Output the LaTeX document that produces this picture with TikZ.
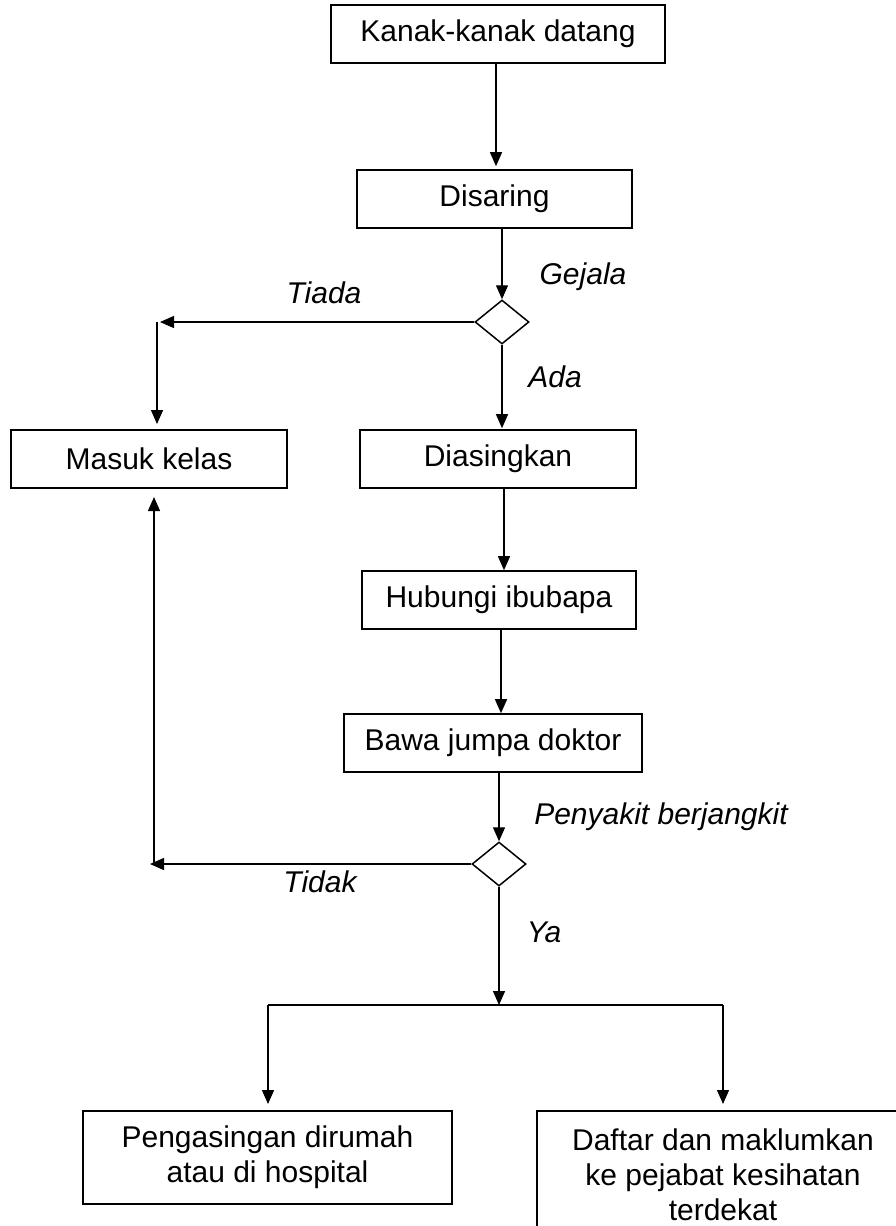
\documentclass[tikz,border=0pt]{standalone}
\usepackage{fontspec}
\setmainfont{Liberation Sans}
\usetikzlibrary{shapes.geometric,arrows.meta}
\begin{document}
\begin{tikzpicture}[x=1pt,y=-1pt,
  every node/.style={font=\fontsize{30}{35}\selectfont},
  box/.style={draw,line width=1.6pt,rectangle,inner sep=0pt,align=center},
  dia/.style={draw,line width=1.5pt,diamond,inner sep=0pt,minimum width=54pt,minimum height=44pt},
  lbl/.style={font=\fontsize{30}{35}\selectfont\itshape,inner sep=0pt},
  conn/.style={line width=1.4pt},
  arr/.style={line width=1.4pt,-{Triangle[length=14pt,width=12pt]}}]
\useasboundingbox (0,0) rectangle (896,1226);
\clip (0,0) rectangle (896,1226);
% boxes
\node[box,minimum width=334pt,minimum height=58pt] (kanak) at (498,34) {Kanak-kanak datang};
\node[box,minimum width=275pt,minimum height=58pt] (disaring) at (494.5,199) {Disaring};
\node[dia] (d1) at (502,322) {};
\node[box,minimum width=276pt,minimum height=58pt] (masuk) at (149,459) {Masuk kelas};
\node[box,minimum width=276pt,minimum height=58pt] (diasing) at (498,459) {Diasingkan};
\node[box,minimum width=274pt,minimum height=58pt] (hubungi) at (499,600) {Hubungi ibubapa};
\node[box,minimum width=298pt,minimum height=58pt] (bawa) at (493,743) {Bawa jumpa doktor};
\node[dia] (d2) at (499,864) {};
\node[box,minimum width=369pt,minimum height=93pt] (rumah) at (267.5,1157.5) {Pengasingan dirumah\\atau di hospital};
\node[box,minimum width=372pt,minimum height=128pt] (daftar) at (723,1175) {Daftar dan maklumkan\\ke pejabat kesihatan\\terdekat};
% labels
\node[lbl] (gejala) at (583,277) {Gejala};
\node[lbl] (tiada) at (324,293) {Tiada};
\node[lbl] (ada) at (555,377) {Ada};
\node[lbl] (penyakit) at (661,817) {Penyakit berjangkit};
\node[lbl] (tidak) at (320,882) {Tidak};
\node[lbl] (ya) at (544,932) {Ya};
% coordinates
\coordinate (c1) at (157,322);
\coordinate (c1b) at (157,424);
\coordinate (c2) at (154,864);
\coordinate (c2b) at (154,497);
\coordinate (j) at (499,1005);
\coordinate (jl) at (268,1005);
\coordinate (jr) at (723,1005);
\coordinate (jlb) at (268,1104);
\coordinate (jrb) at (723,1104);
% connectors
\draw[arr] (kanak.south -| 496,0) -- ([yshift=3pt]disaring.north -| 496,0);
\draw[arr] (disaring.south -| d1.north) -- (d1.north);
\draw[arr] (d1.west) -- ([xshift=3pt]c1);
\draw[arr] (c1) -- (c1b);
\draw[arr] (d1.south) -- ([yshift=1pt]diasing.north -| d1.south);
\draw[arr] (diasing.south -| 504,0) -- (hubungi.north -| 504,0);
\draw[arr] (hubungi.south -| 501,0) -- (bawa.north -| 501,0);
\draw[arr] (bawa.south -| d2.north) -- (d2.north);
\draw[arr] (d2.west) -- ([xshift=-4pt]c2);
\draw[arr] (c2) -- (c2b);
\draw[arr] (d2.south) -- (j);
\draw[conn] (jl) -- (jr);
\draw[arr] (jl) -- (jlb);
\draw[arr] (jr) -- (jrb);
\end{tikzpicture}
\end{document}
